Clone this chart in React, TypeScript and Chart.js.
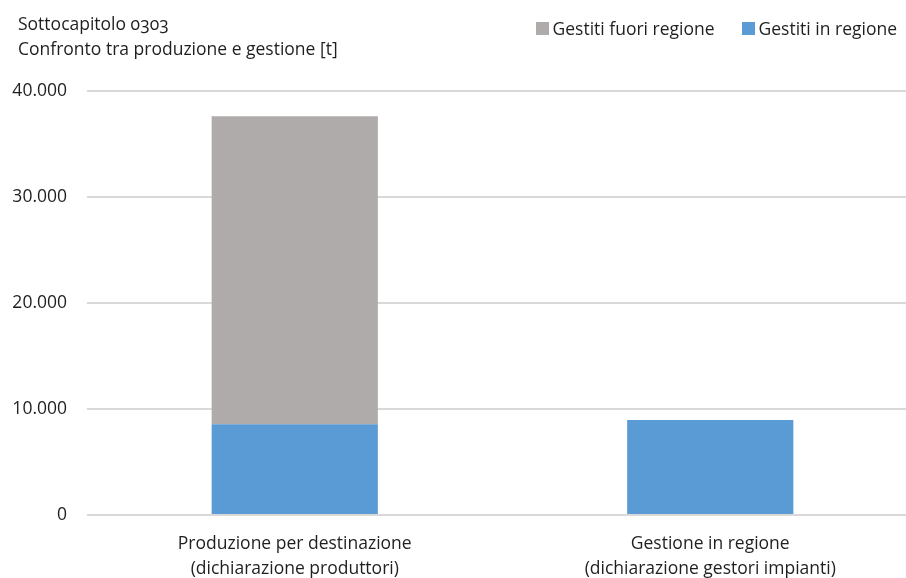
import React, { useEffect, useRef } from "react";
import { Chart, registerables } from "chart.js";

Chart.register(...registerables);

const categories: string[][] = [
  ["Produzione per destinazione", "(dichiarazione produttori)"],
  ["Gestione in regione", "(dichiarazione gestori impianti)"],
];
const seriesNames = ["Gestiti in regione", "Gestiti fuori regione"];
const gestitiInRegione = [8560, 8970];
const gestitiFuoriRegione = [29050, 0];
const yTicks = [0, 10000, 20000, 30000, 40000];
const titleLines = ["Sottocapitolo 0303", "Confronto tra produzione e gestione [t]"];

const BLUE = "#5B9BD5";
const GRAY = "#AFABAB";
const TEXT = "#1f1f1f";
const FONT = "'Open Sans', 'Noto Sans', sans-serif";

const fmt = (v: number) => String(v).replace(/\B(?=(\d{3})+(?!\d))/g, ".");

export default function App() {
  const ref = useRef<HTMLCanvasElement | null>(null);

  useEffect(() => {
    if (!ref.current) return;
    const chart = new Chart(ref.current, {
      type: "bar",
      data: {
        labels: categories,
        datasets: [
          {
            label: seriesNames[0],
            data: gestitiInRegione,
            backgroundColor: BLUE,
            barPercentage: 1,
            categoryPercentage: 0.4,
          },
          {
            label: seriesNames[1],
            data: gestitiFuoriRegione,
            backgroundColor: GRAY,
            barPercentage: 1,
            categoryPercentage: 0.4,
          },
        ],
      },
      options: {
        responsive: false,
        animation: false,
        devicePixelRatio: 1,
        layout: { padding: { top: 91, left: 0, right: 0, bottom: 0 } },
        plugins: {
          legend: { display: false },
          title: { display: false },
          tooltip: { enabled: false },
        },
        scales: {
          x: {
            stacked: true,
            grid: { display: false, drawTicks: false },
            border: { display: false },
            ticks: {
              color: TEXT,
              font: { family: FONT, size: 17.5, lineHeight: "25px" },
              padding: 17,
              maxRotation: 0,
              autoSkip: false,
            },
            afterFit: (s: any) => {
              s.height = 63;
            },
          },
          y: {
            stacked: true,
            min: yTicks[0],
            max: yTicks[yTicks.length - 1],
            afterBuildTicks: (s: any) => {
              s.ticks = yTicks.map((v) => ({ value: v }));
            },
            grid: { color: "#d9d9d9", lineWidth: 2, drawTicks: false },
            border: { display: false },
            ticks: {
              color: TEXT,
              font: { family: FONT, size: 17.5 },
              padding: 20,
              callback: (v: any) => fmt(Number(v)),
            },
            afterFit: (s: any) => {
              s.width = 87;
            },
          },
        },
      },
    });
    return () => chart.destroy();
  }, []);

  const legendItems = [
    { name: seriesNames[1], color: GRAY },
    { name: seriesNames[0], color: BLUE },
  ];

  return (
    <div
      style={{
        position: "fixed",
        left: 0,
        top: 0,
        width: 906,
        height: 578,
        overflow: "hidden",
        background: "#fff",
        fontFamily: FONT,
        color: TEXT,
      }}
    >
      <canvas ref={ref} width={918} height={578} style={{ position: "absolute", left: 0, top: 0, width: 918, height: 578 }} />
      <div style={{ position: "absolute", left: 18, top: 11, fontSize: 17.5, lineHeight: "25px" }}>
        {titleLines.map((t, i) => (
          <div key={t} style={i === 0 ? { fontVariantNumeric: "oldstyle-nums" } : undefined}>
            {t}
          </div>
        ))}
      </div>
      <div
        style={{
          position: "absolute",
          right: 9,
          top: 16,
          display: "flex",
          fontSize: 17.5,
          lineHeight: "24px",
          alignItems: "center",
        }}
      >
        {legendItems.map((it, i) => (
          <div key={it.name} style={{ display: "flex", alignItems: "center", marginLeft: i ? 27 : 0 }}>
            <span style={{ width: 13, height: 13, background: it.color, display: "inline-block", marginRight: 4 }} />
            <span>{it.name}</span>
          </div>
        ))}
      </div>
    </div>
  );
}
